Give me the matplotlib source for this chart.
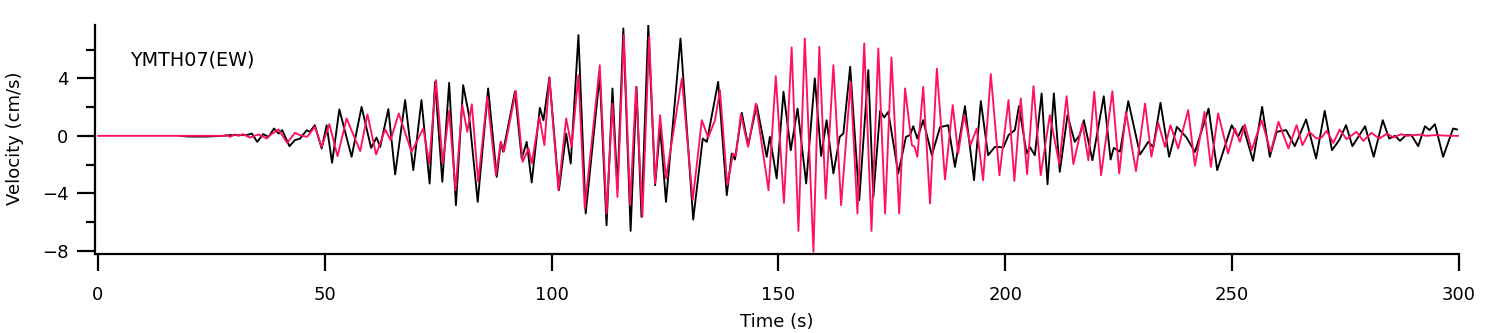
import matplotlib
matplotlib.use("Agg")
import matplotlib.pyplot as plt
from matplotlib.ticker import MultipleLocator

# ---- data (local extrema of each trace) ----
black_t = [18.0, 20.0, 24.0, 27.6, 29.1, 32.8, 33.9, 35.1, 36.4, 37.6, 38.8, 39.8, 40.6, 42.2, 43.4,
           44.5, 46.0, 46.7, 47.8, 49.3, 50.4, 51.6, 53.2, 55.9, 58.1, 60.2, 61.4, 62.2, 64.0, 65.5,
           67.7, 69.5, 71.3, 73.1, 74.3, 75.9, 77.4, 78.9, 80.5, 81.8, 83.7, 86.0, 87.9, 88.8, 89.3,
           91.9, 93.4, 94.5, 95.6, 97.4, 98.2, 99.5, 101.6, 103.2, 104.2, 105.9, 107.5, 110.6, 112.1,
           113.4, 114.5, 115.8, 117.4, 118.7, 119.8, 121.3, 122.8, 123.9, 125.2, 128.4, 131.2, 133.3,
           134.2, 136.7, 138.6, 139.7, 140.4, 141.9, 143.3, 145.2, 147.4, 148.1, 149.6, 151.1, 152.7,
           154.2, 156.1, 158.0, 159.4, 160.6, 162.1, 163.5, 164.3, 165.8, 167.8, 169.8, 170.9, 172.4,
           173.3, 174.2, 176.4, 178.1, 179.0, 179.7, 180.6, 181.9, 183.8, 185.6, 187.4, 188.9, 191.1,
           193.1, 194.6, 196.2, 197.7, 199.6, 200.7, 202.1, 203.0, 204.7, 205.4, 206.5, 208.0, 209.3,
           210.7, 212.0, 213.7, 215.3, 216.4, 217.3, 219.2, 221.7, 223.2, 223.9, 225.3, 227.1, 229.7,
           231.5, 232.6, 234.2, 236.1, 237.8, 239.9, 241.8, 244.8, 246.7, 249.9, 251.3, 252.4, 254.6,
           256.6, 258.3, 259.8, 261.9, 263.8, 266.3, 268.5, 270.4, 272.0, 273.6, 275.1, 276.5, 279.3,
           281.2, 283.2, 284.6, 285.9, 287.0, 288.3, 289.5, 291.0, 292.5, 293.5, 294.7, 296.5, 298.7,
           299.6]
black_v = [0.0, -0.05, -0.05, 0.0, 0.05, 0.05, 0.16, -0.42, 0.12, -0.07, 0.51, 0.16, 0.40, -0.72, -0.30,
           -0.2, 0.39, 0.28, 0.74, -0.88, 0.74, -1.88, 1.84, -1.46, 2.02, -0.84, -0.12, -0.77, 1.86, -2.69,
           2.49, -2.39, 2.49, -3.32, 3.76, -3.2, 3.69, -4.83, 3.53, 1.4, -4.6, 3.30, -2.86, -0.42, -1.1,
           3.07, -1.58, -0.42, -3.25, 1.95, 1.09, 4.07, -3.79, 0.16, -1.93, 7.02, -5.41, 4.23, -6.23,
           3.30, -3.67, 7.48, -6.62, 3.41, -5.64, 7.71, -3.44, 0.63, -4.6, 6.78, -5.83, -0.19,
           -0.42, 3.76, -4.13, -1.23, -1.65, 1.60, -0.65, 2.14, -1.46, -0.07, -2.97, 3.07, -1.0,
           1.9, -3.32, 4.0, -1.4, 1.09, -2.62, -0.07, 0.16, 4.81, -4.48, 4.58, -4.25, 1.74,
           1.28, 1.67, -2.62, -0.07, 0.05, 0.67, -0.19, 1.09, -1.35, 0.6, 0.74, -2.16, 2.07,
           -3.09, 2.42, -1.35, -0.77, -0.8, 0.05, 0.4, 2.07, -1.23, -0.77, -1.35, 2.95, -3.37,
           2.95, -2.51, 1.44, -0.42, 0.05, 1.09, -1.7, 2.76, -1.65, -0.84, -1.1, 2.42, -1.3,
           -0.42, -0.77, 2.3, -1.46, 0.63, -0.1, -1.12, 1.9, -2.39, 0.74, -0.07, 0.67, -1.74,
           2.02, -1.46, 0.28, 0.4, -0.72, 1.14, -1.58, 1.74, -1.0, -0.3, 0.74, -0.72, 0.67,
           -1.46, 1.09, -0.19, 0.0, -0.35, 0.05, 0.05, -0.72, 0.67, 0.4, 0.81, -1.46, 0.51,
           0.44]

pink_t = [0.0, 27.6, 28.4, 29.1, 30.2, 31.0, 31.9, 33.5, 35.4, 37.2, 37.9, 39.8, 41.7, 43.4, 44.5,
          46.1, 47.8, 49.3, 51.0, 52.8, 54.8, 57.8, 59.4, 61.3, 63.3, 64.5, 66.3, 69.1, 71.7, 73.0,
          74.5, 76.0, 77.4, 78.8, 80.3, 81.4, 82.4, 83.8, 85.8, 87.7, 88.8, 89.5, 92.1, 93.6, 94.9,
          95.6, 97.3, 98.4, 99.5, 101.5, 103.2, 104.4, 105.9, 107.3, 110.6, 112.1, 113.4, 114.5,
          115.9, 117.3, 118.6, 120.0, 121.5, 122.8, 123.9, 125.2, 128.7, 131.1, 133.1, 134.5, 136.0,
          137.1, 138.7, 140.0, 140.6, 141.7, 143.3, 145.0, 147.8, 149.4, 151.2, 152.9, 154.4, 155.8,
          157.7, 159.0, 160.4, 162.1, 163.8, 165.9, 167.4, 168.9, 170.5, 172.0, 173.5, 174.9, 176.6,
          177.9, 179.4, 180.0, 180.6, 181.9, 183.4, 184.9, 186.7, 188.4, 189.6, 190.9, 192.3, 193.7,
          195.1, 196.8, 198.7, 200.7, 202.0, 203.4, 204.8, 206.2, 207.8, 209.8, 211.9, 213.5, 215.0,
          217.0, 218.3, 219.6, 221.1, 223.6, 225.1, 226.6, 228.8, 230.8, 232.2, 233.7, 235.2, 236.4,
          238.1, 240.3, 241.8, 243.9, 245.3, 246.9, 249.1, 250.6, 251.7, 252.8, 254.3, 256.5, 258.5,
          260.2, 262.4, 264.2, 265.5, 267.0, 268.6, 269.7, 270.8, 272.3, 273.7, 275.2, 277.4, 278.9,
          280.7, 282.4, 284.2, 285.5, 287.3, 288.4, 291.4, 292.8, 294.7, 298.0, 300.0]
pink_v = [0.0, 0.0, 0.05, -0.07, 0.10, 0.0, 0.12, -0.12, 0.10, -0.19, 0.05, 0.44, -0.49, 0.21, 0.05,
          -0.07, 0.63, -0.77, 0.81, -1.42, 1.21, -1.07, 1.49, -1.30, 0.44, -0.30, 1.56, -1.12, 0.51, -1.93,
          3.88, -1.93, 1.74, -3.79, 2.14, 0.28, 2.2, -3.2, 2.72, -2.74, -0.42, -1.1, 3.14, -1.81, -0.88,
          -1.93, 1.32, -0.65, 4.0, -3.79, 1.21, -0.77, 4.23, -5.06, 4.92, -5.41, 2.25, -4.25,
          7.02, -4.83, 3.41, -5.64, 6.9, -3.32, 1.44, -2.97, 4.0, -4.48, 1.09, -0.12, 1.09,
          3.18, -3.44, -1.23, -1.4, 1.51, -0.77, 2.25, -3.79, 4.16, -4.67, 6.16, -6.62, 6.78,
          -8.08, 6.2, -4.37, 4.92, -4.83, 3.76, -5.41, 6.43, -6.62, 6.09, -5.41, 5.46, -5.41,
          3.3, -0.65, -0.77, -1.46, 3.41, -4.72, 4.69, -3.04, 2.14, -1.23, 1.44, -0.65, 0.51,
          -3.09, 4.3, -2.74, 2.49, -3.14, 2.6, -2.67, 3.46, -2.74, 1.44, -1.97, 2.76, -1.97,
          0.86, -1.7, 3.07, -2.74, 3.11, -2.62, 1.67, -2.46, 2.25, -1.46, 0.91, -0.77, 0.74,
          -0.88, 1.79, -2.09, 1.67, -2.16, 1.56, -1.23, 0.51, -0.42, 0.79, -1.0, 1.09, -1.12,
          0.98, -0.88, 0.74, -0.65, 0.28, -0.19, -0.12, 0.35, -0.49, 0.44, -0.23, 0.28, -0.35,
          0.21, -0.19, 0.16, -0.12, 0.12, 0.0, 0.09, 0.0, 0.05, 0.0, 0.0]

x_ticks = [0, 50, 100, 150, 200, 250, 300]
y_ticks = [-8, -4, 0, 4]
station_label = "YMTH07(EW)"
x_label = "Time (s)"
y_label = "Velocity (cm/s)"

W, H = 1509, 333
fig = plt.figure(figsize=(W / 100, H / 100), dpi=100)
ax = fig.add_axes([95 / W, (H - 254) / H, (1459 - 95) / W, (254 - 25) / H])

ax.plot(black_t, black_v, color="black", lw=1.35, zorder=2,
        solid_joinstyle="round", solid_capstyle="round")
ax.plot(pink_t, pink_v, color="#ff0f66", lw=1.35, zorder=3,
        solid_joinstyle="round", solid_capstyle="round")

ax.set_xlim(-0.66, 300)
ax.set_ylim(-8.23, 7.72)

for s in ["top", "right"]:
    ax.spines[s].set_visible(False)
for s in ["left", "bottom"]:
    ax.spines[s].set_linewidth(1.6)

ax.set_xticks(x_ticks)
ax.set_yticks(y_ticks)
ax.yaxis.set_minor_locator(MultipleLocator(2))
ax.tick_params(axis="x", which="major", direction="out", length=12, width=1.6,
               labelsize=13, pad=11)
ax.tick_params(axis="y", which="major", direction="out", length=13, width=1.6,
               labelsize=13, pad=6)
ax.tick_params(axis="y", which="minor", direction="out", length=6.5, width=1.6)
ax.set_yticklabels([("\u2212" + str(abs(v))) if v < 0 else str(v) for v in y_ticks])

ax.text(7.05, 5.27, station_label, fontsize=13.8, ha="left", va="center")

fig.text(777 / W, (H - 322) / H, x_label, fontsize=13, ha="center", va="center")
fig.text(15 / W, (H - 138) / H, y_label, fontsize=13, ha="center", va="center",
         rotation=90)

fig.savefig("out.png", dpi=100)
